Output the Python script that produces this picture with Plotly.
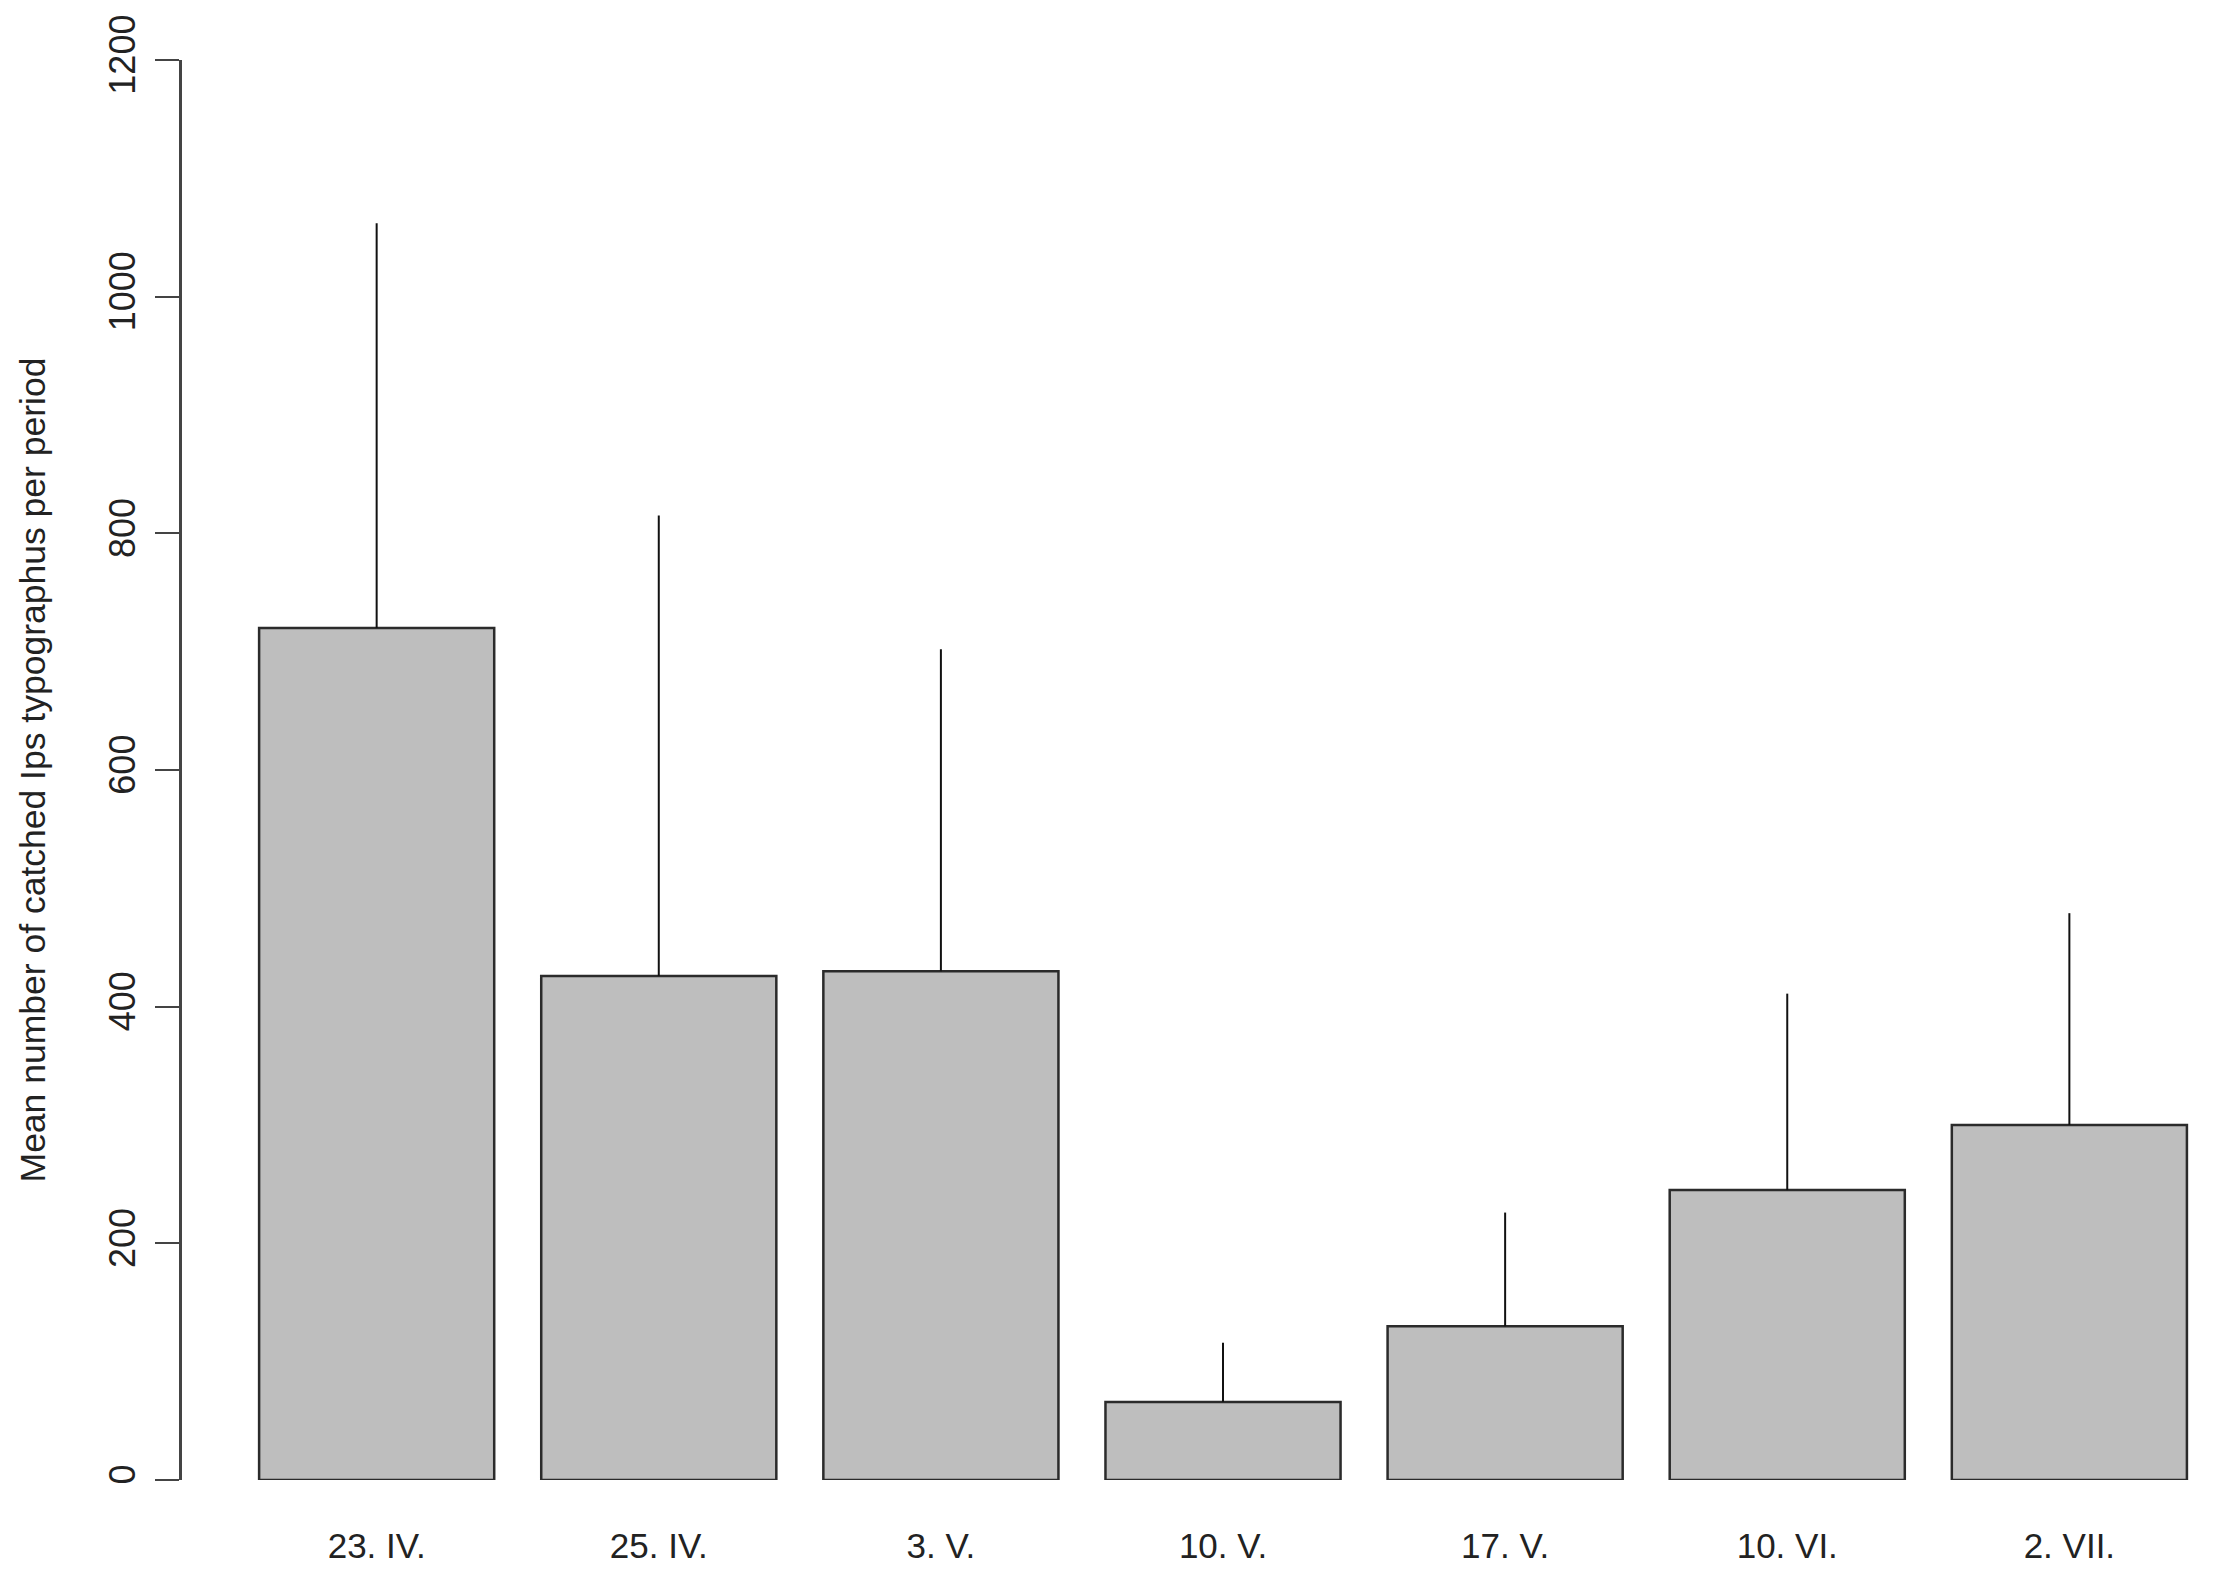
import plotly.graph_objects as go

# ── Data ─────────────────────────────────────────────────────────────────────
periods = ["23. IV.", "25. IV.", "3. V.", "10. V.", "17. V.", "10. VI.", "2. VII."]
mean_catch = [720, 426, 430, 66, 130, 245, 300]
upper_catch = [1062, 815, 702, 116, 226, 411, 479]
y_ticks = [0, 200, 400, 600, 800, 1000, 1200]

# R barplot style positions: width 1, space 0.2
bar_pos = [0.7 + 1.2 * i for i in range(len(periods))]
err_plus = [u - m for u, m in zip(upper_catch, mean_catch)]

FONT = "Liberation Sans, Arial, sans-serif"
INK = "#222222"

fig = go.Figure(go.Bar(
    x=bar_pos,
    y=mean_catch,
    width=1,
    marker={"color": "#BEBEBE", "line": {"color": "#2B2B2B", "width": 2.5}},
    error_y={
        "type": "data",
        "symmetric": False,
        "array": err_plus,
        "arrayminus": [0] * len(err_plus),
        "width": 0,
        "thickness": 2,
        "color": "#111111",
    },
    hovertemplate="<b>%{text}</b><br>%{y}<extra></extra>",
    text=periods,
    textposition="none",
))

# page body adds an 8px offset, margins compensate for it
fig.update_layout(
    width=2221,
    height=1588,
    paper_bgcolor="white",
    plot_bgcolor="white",
    font={"family": FONT, "color": INK, "size": 34},
    showlegend=False,
    margin={"l": 174, "r": 0, "t": 52, "b": 116, "autoexpand": False},
    xaxis={
        "range": [-0.128, 8.579],
        "tickvals": bar_pos,
        "ticktext": periods,
        "ticks": "",
        "showgrid": False,
        "zeroline": False,
        "showline": False,
        "tickfont": {"size": 35, "color": INK},
        "ticklabelstandoff": 42,
    },
    yaxis={
        "range": [0, 1200],
        "tickvals": y_ticks,
        "tickangle": -90,
        "ticks": "outside",
        "ticklen": 24,
        "tickwidth": 2,
        "tickcolor": "#444444",
        "showline": True,
        "linecolor": "#444444",
        "linewidth": 2.5,
        "showgrid": False,
        "zeroline": False,
        "tickfont": {"size": 36, "color": INK},
        "ticklabelstandoff": 6,
        "title": {
            "text": "Mean number of catched Ips typographus per period",
            "font": {"size": 35.5, "color": INK},
            "standoff": 46,
        },
    },
)

fig.write_html("out.html")
